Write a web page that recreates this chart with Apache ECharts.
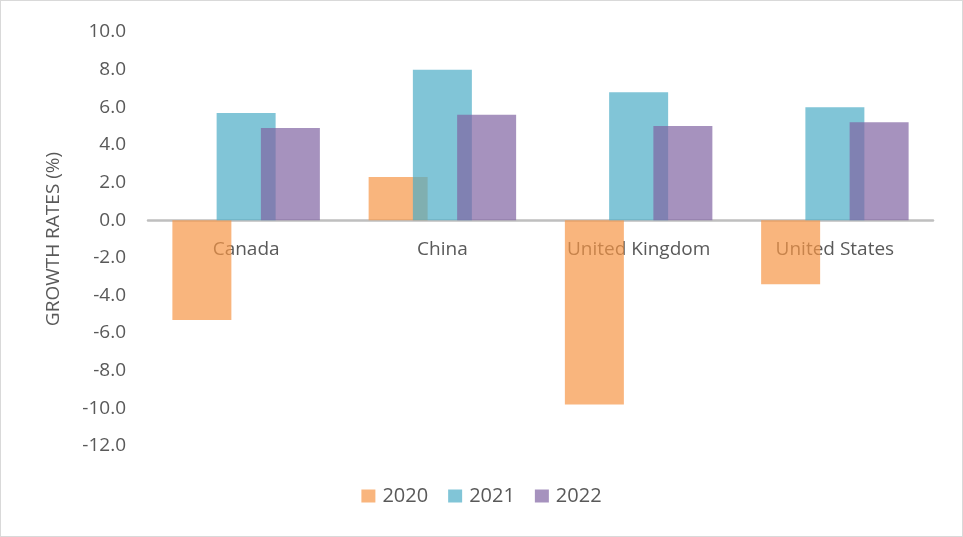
<!DOCTYPE html>
<html>
<head>
<meta charset="utf-8">
<script src="https://cdn.jsdelivr.net/npm/echarts@6/dist/echarts.min.js"></script>
<style>
  html, body { margin: 0; padding: 0; background: #fff; }
  #chart { width: 961px; height: 535px; border: 1px solid #d9d9d9; }
</style>
</head>
<body>
<div id="chart"></div>
<script>
var categories = ['Canada', 'China', 'United Kingdom', 'United States'];
var years = ['2020', '2021', '2022'];
var values2020 = [-5.3, 2.3, -9.8, -3.4];
var values2021 = [5.7, 8.0, 6.8, 6.0];
var values2022 = [4.9, 5.6, 5.0, 5.2];
var colors = ['#F79646', '#4BACC6', '#8064A2'];

var seriesValues = [values2020, values2021, values2022];

var fontFamily = '"Open Sans", "Noto Sans", sans-serif';

var yMin = -12, yMax = 10;
var gridTop = 31, gridBottom = 90;
var plotHeight = 535 - gridTop - gridBottom;
// move the category axis (line + labels) up to the zero line
var zeroOffset = -plotHeight * (0 - yMin) / (yMax - yMin);

var series = years.map(function (y, i) {
    return {
        name: y,
        type: 'bar',
        data: seriesValues[i],
        barWidth: 59,
        barGap: '-25%',
        itemStyle: { color: colors[i], opacity: 0.7 }
    };
});

var option = {
    animation: false,
    textStyle: { fontFamily: fontFamily },
    grid: { left: 147, right: 29, top: gridTop, bottom: gridBottom },
    legend: {
        bottom: 25,
        left: 'center',
        itemWidth: 14,
        itemHeight: 13,
        itemGap: 20,
        icon: 'rect',
        textStyle: { fontSize: 20, color: '#595959', fontFamily: fontFamily, padding: [0, 0, 0, 2] },
        data: years
    },
    xAxis: {
        type: 'category',
        data: categories,
        offset: zeroOffset,
        axisLine: { onZero: false, lineStyle: { color: '#BFBFBF', width: 2.5 } },
        axisTick: { show: false },
        axisLabel: { fontSize: 19, color: '#595959', margin: 20 }
    },
    yAxis: {
        type: 'value',
        min: yMin,
        max: yMax,
        interval: 2,
        name: 'GROWTH RATES (%)',
        nameLocation: 'middle',
        nameGap: 85,
        nameTextStyle: { fontSize: 19, color: '#595959' },
        axisLine: { show: false },
        axisTick: { show: false },
        splitLine: { show: false },
        axisLabel: {
            fontSize: 19,
            color: '#595959',
            margin: 22,
            formatter: function (v) { return v.toFixed(1); }
        }
    },
    series: series
};

var myChart = echarts.init(document.getElementById('chart'));
myChart.setOption(option);
</script>
</body>
</html>
